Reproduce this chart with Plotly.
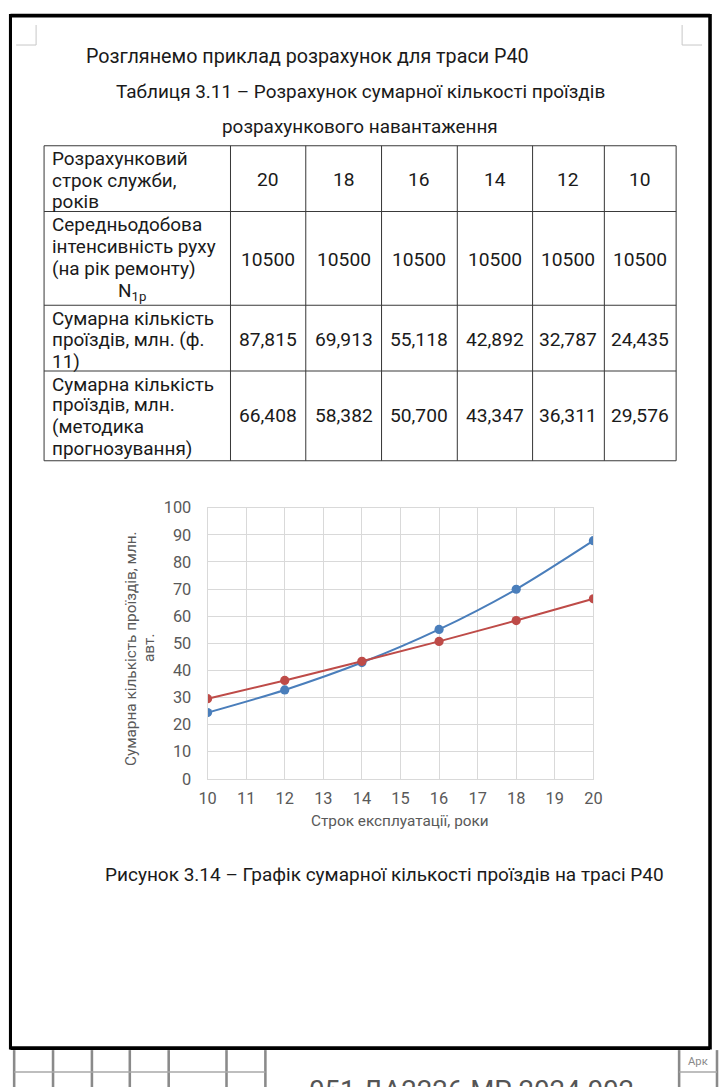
import plotly.graph_objects as go

# The viewer shows the page with an 8 px body margin and scales a
# 736x1103 page area down to 720x1087.  Reference pixels are converted
# to figure pixels with these factors.
OFF = 8
KX = 736 / 720
KY = 1103 / 1087
S = KX                     # size factor for fonts and line widths
W, H = 728, 1095           # figure size (covers the visible page area)

# ---------------- data ----------------
years = [10, 12, 14, 16, 18, 20]
total_f11 = [24.435, 32.787, 42.892, 55.118, 69.913, 87.815]
total_method = [29.576, 36.311, 43.347, 50.700, 58.382, 66.408]
intensity = [10500, 10500, 10500, 10500, 10500, 10500]

table_years = [20, 18, 16, 14, 12, 10]
row_labels = [
    ["Розрахунковий", "строк служби,", "років"],
    ["Середньодобова", "інтенсивність руху", "(на рік ремонту)"],
    ["Сумарна кількість", "проїздів, млн. (ф.", "11)"],
    ["Сумарна кількість", "проїздів, млн.", "(методика", "прогнозування)"],
]

intro_text = "Розглянемо приклад розрахунок для траси Р40"
table_title = ["Таблиця 3.11 – Розрахунок сумарної кількості проїздів",
               "розрахункового навантаження"]
x_title = "Строк експлуатації, роки"
y_title = ["Сумарна кількість проїздів, млн.", "авт."]
caption = "Рисунок 3.14 – Графік сумарної кількості проїздів на трасі Р40"
doc_code = "051 ДА2226 МР 2024 002"

FONT = "Roboto"
TXT = "#1a1a1a"


def X(p):
    return (p * KX - OFF) / W


def Y(p):
    return 1 - (p * KY - OFF) / H


def fmt(v):
    return f"{v:.3f}".replace(".", ",")


shapes = []
ann = []


def line(x0, y0, x1, y1, color, width):
    shapes.append(dict(type="line", xref="paper", yref="paper",
                       x0=X(x0), y0=Y(y0), x1=X(x1), y1=Y(y1),
                       line=dict(color=color, width=width * S)))


def text(t, x, y, size, xanchor="left", color=TXT, angle=0):
    ann.append(dict(text=t, x=X(x), y=Y(y), xref="paper", yref="paper",
                    xanchor=xanchor, yanchor="middle", showarrow=False,
                    textangle=angle,
                    font=dict(family=FONT, size=size * S, color=color)))


# ---------------- page frame ----------------
line(9.3, 14.5, 711, 14.5, "#000000", 3.5)
line(9.3, 1050, 711, 1050, "#000000", 3.5)
line(9.3, 13, 9.3, 1051.5, "#000000", 3)
line(711, 13, 711, 1051.5, "#000000", 3.5)
# corner marks
line(35, 24, 35, 44, "#c8c8c8", 1)
line(15, 44, 35, 44, "#c8c8c8", 1)
line(683, 24, 683, 44, "#c8c8c8", 1)
line(683, 44, 703, 44, "#c8c8c8", 1)

# stamp grid at the bottom
for xv in [13, 52, 91, 129, 168, 226, 265]:
    line(xv, 1052, xv, 1090, "#8a8a8a", 2.5)
line(13, 1074, 265, 1074, "#a8a8a8", 1.5)
for xv in [680, 718]:
    line(xv, 1052, xv, 1090, "#8a8a8a", 2.5)
line(680, 1074, 718, 1074, "#a8a8a8", 1.5)
text("Арк", 699, 1063, 11, "center", "#8a8a8a")
text(doc_code, 472, 1093, 27, "center", "#555555")

# ---------------- headings ----------------
text(intro_text, 83, 56, 19.3)
text(table_title[0], 360, 91, 18.5, "center")
text(table_title[1], 360, 126, 18.5, "center")

# ---------------- table ----------------
col_x = [43, 230, 305.5, 381.5, 457.5, 533, 605, 677]
row_y = [145, 211, 305, 371, 461]
TL = "#3a3a3a"
for xv in col_x:
    line(xv, row_y[0], xv, row_y[-1], TL, 1)
for yv in row_y:
    line(col_x[0], yv, col_x[-1], yv, TL, 1)

label_lines_y = [
    [158, 180, 201],
    [224, 246, 268],
    [318, 339, 361],
    [384, 405, 427, 449],
]
for lines, ys in zip(row_labels, label_lines_y):
    for t, yv in zip(lines, ys):
        text(t, 49, yv, 18.5)
text("N<sub>1p</sub>", 131, 291, 18.5, "center")

row_values = [
    [str(v) for v in table_years],
    [str(v) for v in intensity],
    [fmt(v) for v in total_f11[::-1]],
    [fmt(v) for v in total_method[::-1]],
]
row_centers = [179, 259, 339, 416]
for vals, yc in zip(row_values, row_centers):
    for i, v in enumerate(vals):
        xc = (col_x[i + 1] + col_x[i + 2]) / 2
        text(v, xc, yc, 18.8, "center")

# ---------------- chart ----------------
PX0, PX1 = 207, 594
PY0, PY1 = 508, 780
GRID = "#d9d9d9"
TICK = "#595959"

fig = go.Figure()
fig.add_trace(go.Scatter(
    x=years, y=total_f11, mode="lines+markers",
    line=dict(color="#4a7ebb", width=2 * S, shape="spline", smoothing=0.8),
    marker=dict(color="#4a7ebb", size=9 * S), showlegend=False))
fig.add_trace(go.Scatter(
    x=years, y=total_method, mode="lines+markers",
    line=dict(color="#be4b48", width=2 * S),
    marker=dict(color="#be4b48", size=9 * S), showlegend=False))

text(x_title, (PX0 + PX1) / 2, 822, 15, "center", TICK)
text(y_title[0], 130, 649, 15, "center", TICK, -90)
text(y_title[1], 149, 649, 15, "center", TICK, -90)

text(caption, 384, 876, 18.6, "center")

fig.update_layout(
    width=W, height=H,
    margin=dict(l=0, r=0, t=0, b=0),
    paper_bgcolor="white", plot_bgcolor="white",
    shapes=shapes, annotations=ann,
    xaxis=dict(domain=[X(PX0), X(PX1)], range=[10, 20], dtick=1,
               showgrid=True, gridcolor=GRID, gridwidth=1,
               showline=True, linecolor=GRID, mirror=True, zeroline=False,
               ticks="", ticklabelstandoff=4,
               tickfont=dict(family=FONT, size=16 * S, color=TICK)),
    yaxis=dict(domain=[Y(PY1), Y(PY0)], range=[0, 100], dtick=10,
               showgrid=True, gridcolor=GRID, gridwidth=1,
               showline=True, linecolor=GRID, mirror=True, zeroline=False,
               ticks="", ticklabelstandoff=12,
               tickfont=dict(family=FONT, size=16 * S, color=TICK)),
)

fig.write_html("out.html")
